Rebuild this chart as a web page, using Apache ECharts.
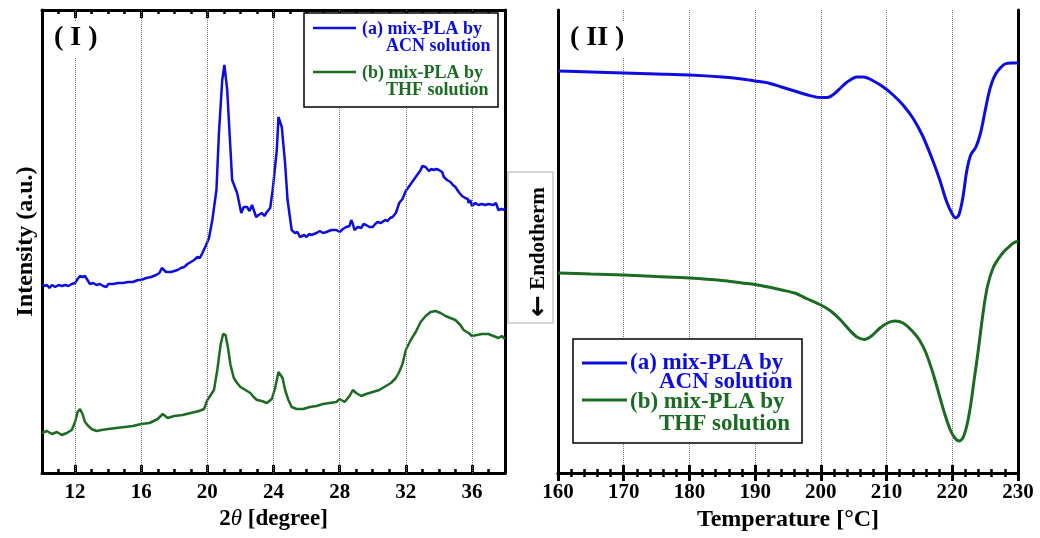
<!DOCTYPE html>
<html>
<head>
<meta charset="utf-8">
<script src="https://cdn.jsdelivr.net/npm/echarts@6/dist/echarts.min.js"></script>
<style>
html,body{margin:0;padding:0;background:#fff;}
#c{width:1040px;height:538px;}
</style>
</head>
<body>
<div id="c"></div>
<script>
// ---------- Panel (I): XRD ----------
const xrdTicks = [12, 16, 20, 24, 28, 32, 36];
const acnTheta = [10.0,10.15,10.3,10.45,10.6,10.8,11.0,11.2,11.4,11.6,11.8,12.0,12.15,12.3,12.45,12.6,12.75,12.9,13.1,13.3,13.5,13.7,13.9,14.0,14.3,14.6,14.9,15.2,15.5,15.8,16.0,16.3,16.6,16.9,17.1,17.25,17.35,17.5,17.6,17.8,18.0,18.2,18.4,18.6,18.8,19.0,19.2,19.4,19.55,19.7,19.9,20.1,20.3,20.55,20.7,20.9,21.03,21.2,21.4,21.5,21.8,22.05,22.2,22.4,22.55,22.7,22.95,23.1,23.3,23.45,23.6,23.8,23.95,24.2,24.3,24.4,24.5,24.7,24.85,25.1,25.3,25.45,25.6,25.7,25.85,26.0,26.15,26.3,26.6,26.8,27.0,27.2,27.5,27.8,28.0,28.2,28.4,28.6,28.7,28.8,28.9,29.1,29.3,29.45,29.6,29.8,30.0,30.15,30.3,30.5,30.6,30.75,30.9,31.05,31.2,31.4,31.6,31.8,32.0,32.3,32.6,32.9,33.0,33.2,33.4,33.55,33.7,33.85,34.0,34.2,34.3,34.5,34.7,34.85,35.0,35.2,35.3,35.4,35.6,35.75,35.8,35.9,36.0,36.2,36.4,36.6,36.8,37.0,37.1,37.3,37.45,37.6,37.8,37.9,38.0];
const acnIntensity = [189,187,188,185,188,186,188,187,188,187,189,190,194,197,196,197,193,189,190,188,189,187,186,189,189,190,190,191,191,193,193,195,196,198,200,205,207,201,199,201,202,203,205,206,209,211,213,216,215,220,227,235,253,283,340,393,408,383,323,293,280,260,266,266,262,268,256,258,260,257,261,265,283,323,356,358,346,310,273,243,240,241,236,235,238,236,239,238,240,242,240,241,243,243,241,244,246,247,253,249,243,246,245,249,248,246,246,249,251,250,251,253,252,255,256,260,270,274,282,289,296,303,307,306,302,304,303,304,303,301,296,293,291,288,286,281,283,277,275,274,270,273,267,270,268,269,268,269,267,268,270,263,264,262,263];
const thfTheta = [10.0,10.3,10.6,10.9,11.2,11.5,11.8,12.0,12.15,12.3,12.45,12.6,12.8,13.0,13.3,13.6,14.0,14.5,15.0,15.5,16.0,16.5,17.0,17.3,17.6,18.0,18.5,19.0,19.5,19.8,20.0,20.2,20.4,20.6,20.8,20.95,21.1,21.25,21.4,21.6,21.8,22.0,22.3,22.6,22.8,23.0,23.3,23.6,23.9,24.1,24.3,24.4,24.55,24.7,24.9,25.1,25.4,25.8,26.2,26.6,27.0,27.4,27.8,28.0,28.3,28.6,28.8,29.0,29.3,29.6,30.0,30.4,30.8,31.1,31.4,31.6,31.8,32.0,32.3,32.6,32.9,33.2,33.5,33.8,34.1,34.4,34.7,35.0,35.3,35.5,35.8,36.0,36.3,36.6,37.0,37.3,37.6,37.8,38.0];
const thfIntensity = [40,42,39,41,38,40,43,51,61,64,59,51,47,44,42,43,44,45,46,47,49,50,54,59,55,57,58,60,62,64,73,78,83,103,128,139,138,125,108,95,90,86,83,80,76,73,72,70,74,85,101,103,95,83,73,66,64,64,66,67,69,70,71,74,71,77,83,80,77,79,81,83,87,90,95,101,109,123,133,141,151,157,161,162,160,157,155,153,148,143,140,137,138,139,139,137,135,137,134];

// ---------- Panel (II): DSC ----------
const dscTicks = [160, 170, 180, 190, 200, 210, 220, 230];
const acnTemp = [160,165,170,175,180,185,188,190,192,194,196,198,199.8,201,202,203,204,205.5,206.5,208,209.5,211,212.5,214,215.5,217,218.1,219.1,220,220.5,221,221.6,222.2,222.8,223.6,224.3,224.9,225.5,226,226.6,227.3,228,229,230];
const acnHeat = [402,401,400,399,398,396,394,392,390,386,382,378,375.5,375.5,379,385,391,396,396,392,386,378,368,355,337,313,293,272,259,255,258,275,302,318,326,340,359,378,390,399,405,409,410,410];
const thfTemp = [160,165,170,175,180,185,188,190,192,194,196,198,200,201.5,203,204.5,205.5,206.6,207.7,209,210.3,211.3,212.5,213.9,215,216,217.1,218.1,218.9,219.7,220.4,221.0,221.6,222.2,222.8,223.3,223.9,224.4,224.9,225.4,226.2,227,227.8,228.6,229.3,230];
const thfHeat = [200,199,198,196.5,195,192.5,190,188.5,186,183,180,174,168,162,153,142,136,133.5,137,145,150.5,152,150,142,133,120,99,76,58,43,35,32,35,47,68,92,120,146,170,188,205,214,221,226,230,232];

const BLUE = '#0d0de0';
const GREEN = '#1b6b22';
const FONT = '"Liberation Serif", "Times New Roman", serif';

function pairs(xs, ys) { return xs.map((x, i) => [x, ys[i]]); }

const frameLine = { show: true, lineStyle: { color: '#000', width: 3 } };
const noTick = { show: false };
const noLabel = { show: false };
const noSplit = { show: false };

const chart = echarts.init(document.getElementById('c'), null, { renderer: 'canvas' });

const option = {
  animation: false,
  backgroundColor: '#fff',
  grid: [
    { left: 42, right: 535, top: 10, bottom: 65 },
    { left: 558, right: 22, top: 10, bottom: 65 }
  ],
  xAxis: [
    { // 0: panel I bottom (minor ticks + labels)
      type: 'value', gridIndex: 0, position: 'bottom', min: 10, max: 38, interval: 1,
      axisLine: frameLine,
      axisTick: { show: true, inside: true, length: 4, lineStyle: { color: '#000', width: 2.5 } },
      axisLabel: { show: true, customValues: xrdTicks, margin: 9, color: '#000', fontFamily: FONT, fontWeight: 'bold', fontSize: 21 },
      splitLine: noSplit,
      name: '{a|2}{b|θ}{a| [degree]}', nameLocation: 'middle', nameGap: 34,
      nameTextStyle: { color: '#000', rich: {
        a: { fontFamily: FONT, fontWeight: 'bold', fontSize: 23, color: '#000' },
        b: { fontFamily: FONT, fontStyle: 'italic', fontSize: 23, color: '#000' } } }
    },
    { // 1: panel I bottom major ticks
      type: 'value', gridIndex: 0, position: 'bottom', min: 10, max: 38, interval: 1,
      axisLine: { show: false },
      axisTick: { show: true, inside: true, length: 8, customValues: xrdTicks, lineStyle: { color: '#000', width: 3 } },
      axisLabel: noLabel, splitLine: noSplit
    },
    { // 2: panel I top minor
      type: 'value', gridIndex: 0, position: 'top', min: 10, max: 38, interval: 1,
      axisLine: frameLine,
      axisTick: { show: true, inside: true, length: 4, lineStyle: { color: '#000', width: 2.5 } },
      axisLabel: noLabel, splitLine: noSplit
    },
    { // 3: panel I top major
      type: 'value', gridIndex: 0, position: 'top', min: 10, max: 38, interval: 1,
      axisLine: { show: false },
      axisTick: { show: true, inside: true, length: 8, customValues: xrdTicks, lineStyle: { color: '#000', width: 3 } },
      axisLabel: noLabel, splitLine: noSplit
    },
    { // 4: panel II bottom
      type: 'value', gridIndex: 1, position: 'bottom', min: 160, max: 230, interval: 10,
      axisLine: frameLine,
      axisTick: { show: true, inside: true, length: 8, lineStyle: { color: '#000', width: 3 } },
      minorTick: { show: true, splitNumber: 5, length: 4, lineStyle: { color: '#000', width: 2.5 } },
      axisLabel: { show: true, margin: 9, color: '#000', fontFamily: FONT, fontWeight: 'bold', fontSize: 21 },
      splitLine: { show: true, lineStyle: { color: '#777', type: 'dotted', width: 1 } },
      name: 'Temperature [°C]', nameLocation: 'middle', nameGap: 34,
      nameTextStyle: { color: '#000', fontFamily: FONT, fontWeight: 'bold', fontSize: 24 }
    },
    { // 5: panel II top
      type: 'value', gridIndex: 1, position: 'top', min: 160, max: 230, interval: 10,
      axisLine: frameLine,
      axisTick: { show: true, inside: true, length: 8, lineStyle: { color: '#000', width: 3 } },
      minorTick: { show: true, splitNumber: 5, length: 4, lineStyle: { color: '#000', width: 2.5 } },
      axisLabel: noLabel, splitLine: noSplit
    }
  ],
  yAxis: [
    { type: 'value', gridIndex: 0, position: 'left', min: 0, max: 463,
      axisLine: frameLine, axisTick: noTick, axisLabel: noLabel, splitLine: noSplit,
      name: 'Intensity (a.u.)', nameLocation: 'middle', nameGap: 4,
      nameTextStyle: { color: '#000', fontFamily: FONT, fontWeight: 'bold', fontSize: 24 } },
    { type: 'value', gridIndex: 0, position: 'right', min: 0, max: 463,
      axisLine: frameLine, axisTick: noTick, axisLabel: noLabel, splitLine: noSplit },
    { type: 'value', gridIndex: 1, position: 'left', min: 0, max: 463,
      axisLine: frameLine, axisTick: noTick, axisLabel: noLabel, splitLine: noSplit },
    { type: 'value', gridIndex: 1, position: 'right', min: 0, max: 463,
      axisLine: frameLine, axisTick: noTick, axisLabel: noLabel, splitLine: noSplit }
  ],
  series: [
    { // vertical dotted grid lines for panel I
      type: 'line', xAxisIndex: 0, yAxisIndex: 0, data: [], z: 1, silent: true,
      markLine: { silent: true, symbol: 'none', label: { show: false },
        lineStyle: { color: '#777', type: 'dotted', width: 1 },
        data: xrdTicks.map(v => ({ xAxis: v })) }
    },
    { name: '(a) mix-PLA by ACN solution', type: 'line', xAxisIndex: 0, yAxisIndex: 0, z: 3,
      data: pairs(acnTheta, acnIntensity), showSymbol: false, symbol: 'none',
      lineStyle: { color: BLUE, width: 2.5 }, itemStyle: { color: BLUE } },
    { name: '(b) mix-PLA by THF solution', type: 'line', xAxisIndex: 0, yAxisIndex: 0, z: 3,
      data: pairs(thfTheta, thfIntensity), showSymbol: false, symbol: 'none',
      lineStyle: { color: GREEN, width: 2.5 }, itemStyle: { color: GREEN } },
    { name: '(a) mix-PLA by ACN solution', type: 'line', xAxisIndex: 4, yAxisIndex: 2, z: 3,
      data: pairs(acnTemp, acnHeat), showSymbol: false, symbol: 'none', smooth: 0.3,
      lineStyle: { color: BLUE, width: 3 }, itemStyle: { color: BLUE } },
    { name: '(b) mix-PLA by THF solution', type: 'line', xAxisIndex: 4, yAxisIndex: 2, z: 3,
      data: pairs(thfTemp, thfHeat), showSymbol: false, symbol: 'none', smooth: 0.3,
      lineStyle: { color: GREEN, width: 3 }, itemStyle: { color: GREEN } }
  ],
  graphic: [
    // panel labels
    { type: 'text', x: 52, y: 22, z: 100,
      style: { text: '( I )', font: 'bold 28px ' + FONT, fill: '#000', backgroundColor: '#fff', padding: [2, 2, 6, 2] } },
    { type: 'text', x: 568, y: 22, z: 100,
      style: { text: '( II )', font: 'bold 28px ' + FONT, fill: '#000', backgroundColor: '#fff', padding: [2, 2, 6, 2] } },
    // Legend panel I
    { type: 'rect', z: 100, shape: { x: 304, y: 13, width: 194, height: 94 },
      style: { fill: '#fff', stroke: '#000', lineWidth: 1.5 } },
    { type: 'line', z: 101, shape: { x1: 313, y1: 28, x2: 356, y2: 28 }, style: { stroke: BLUE, lineWidth: 2.5 } },
    { type: 'line', z: 101, shape: { x1: 313, y1: 72, x2: 356, y2: 72 }, style: { stroke: GREEN, lineWidth: 2.5 } },
    { type: 'text', z: 101, x: 362, y: 29, style: { text: '(a) mix-PLA by', font: 'bold 18px ' + FONT, fill: BLUE, verticalAlign: 'middle' } },
    { type: 'text', z: 101, x: 386, y: 46, style: { text: 'ACN solution', font: 'bold 18px ' + FONT, fill: BLUE, verticalAlign: 'middle' } },
    { type: 'text', z: 101, x: 362, y: 73, style: { text: '(b) mix-PLA by', font: 'bold 18px ' + FONT, fill: GREEN, verticalAlign: 'middle' } },
    { type: 'text', z: 101, x: 386, y: 90, style: { text: 'THF solution', font: 'bold 18px ' + FONT, fill: GREEN, verticalAlign: 'middle' } },
    // Legend panel II
    { type: 'rect', z: 100, shape: { x: 573, y: 339, width: 229, height: 104 },
      style: { fill: '#fff', stroke: '#000', lineWidth: 1.5 } },
    { type: 'line', z: 101, shape: { x1: 582, y1: 363, x2: 627, y2: 363 }, style: { stroke: BLUE, lineWidth: 3 } },
    { type: 'line', z: 101, shape: { x1: 582, y1: 400, x2: 627, y2: 400 }, style: { stroke: GREEN, lineWidth: 3 } },
    { type: 'text', z: 101, x: 630, y: 363, style: { text: '(a) mix-PLA by', font: 'bold 23px ' + FONT, fill: BLUE, verticalAlign: 'middle' } },
    { type: 'text', z: 101, x: 659, y: 382, style: { text: 'ACN solution', font: 'bold 23px ' + FONT, fill: BLUE, verticalAlign: 'middle' } },
    { type: 'text', z: 101, x: 630, y: 402, style: { text: '(b) mix-PLA by', font: 'bold 23px ' + FONT, fill: GREEN, verticalAlign: 'middle' } },
    { type: 'text', z: 101, x: 659, y: 424, style: { text: 'THF solution', font: 'bold 23px ' + FONT, fill: GREEN, verticalAlign: 'middle' } },
    // Endotherm box
    { type: 'rect', z: 100, shape: { x: 508, y: 172, width: 45, height: 151 },
      style: { fill: '#fff', stroke: '#c8c8c8', lineWidth: 1.5 } },
    { type: 'text', z: 101, x: 539, y: 252, rotation: Math.PI / 2,
      style: { text: '{a|←} Endotherm', font: 'bold 21px ' + FONT, fill: '#000', align: 'center', verticalAlign: 'middle',
        rich: { a: { font: 'bold 26px "DejaVu Sans", sans-serif', fill: '#000', verticalAlign: 'middle' } } } }
  ]
};
chart.setOption(option);
</script>
</body>
</html>
